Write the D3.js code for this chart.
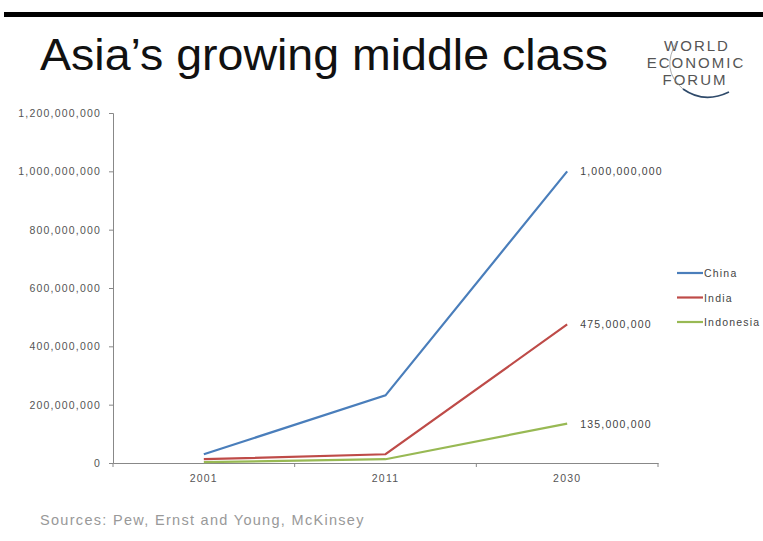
<!DOCTYPE html>
<html>
<head>
<meta charset="utf-8">
<script src="https://cdn.jsdelivr.net/npm/d3@7"></script>
<style>
  body { margin: 0; background: #fff; }
  svg { display: block; font-family: "Liberation Sans", Arial, sans-serif; }
</style>
</head>
<body>
<div class="chart-wrapper"></div>
<script>
var years = ["2001", "2011", "2030"];
var china = [30000000, 232000000, 1000000000];
var india = [13000000, 30000000, 475000000];
var indonesia = [3000000, 13000000, 135000000];
var seriesNames = ["China", "India", "Indonesia"];
var seriesColors = ["#4a7ebb", "#be4b48", "#98b954"];
var yTicks = [0, 200000000, 400000000, 600000000, 800000000, 1000000000, 1200000000];
var endLabels = ["1,000,000,000", "475,000,000", "135,000,000"];

var canvas = d3.select(".chart-wrapper").append("svg").attr("width", 763).attr("height", 541);

// top black rule
canvas.append("rect").attr("x", 4).attr("y", 12).attr("width", 759).attr("height", 5).attr("fill", "#000");

// title
canvas.append("text").attr("x", 40).attr("y", 70)
  .attr("font-size", 44).attr("fill", "#111")
  .attr("textLength", 568).attr("lengthAdjust", "spacingAndGlyphs")
  .text("Asia\u2019s growing middle class");

// logo
var logo = canvas.append("g").attr("fill", "#555").attr("font-size", 15).attr("text-anchor", "middle").attr("letter-spacing", 2);
logo.append("text").attr("x", 697).attr("y", 51).text("WORLD");
logo.append("text").attr("x", 696).attr("y", 68).text("ECONOMIC");
logo.append("text").attr("x", 695).attr("y", 85).text("FORUM");
canvas.append("path").attr("d", "M683,89 Q704,104 729,92").attr("fill", "none").attr("stroke", "#2f4a6a").attr("stroke-width", 1.6);
canvas.append("path").attr("d", "M677,41 Q660,70 683,89").attr("fill", "none").attr("stroke", "#888").attr("stroke-width", 0.7);

var margin = {left: 113, right: 658, top: 113, bottom: 463};
var smallFont = 10.5;
var smallSpacing = 1.2;

var x = d3.scaleBand().domain(years).range([margin.left, margin.right]);
var y = d3.scaleLinear().domain([0, 1200000000]).range([margin.bottom, margin.top]);

var yAxis = canvas.append("g").attr("transform", "translate(" + margin.left + ",0)")
  .call(d3.axisLeft(y).tickValues(yTicks).tickSize(4).tickPadding(8).tickFormat(d3.format(",")));
yAxis.select(".domain").attr("stroke", "#888");
yAxis.selectAll(".tick line").attr("stroke", "#888");
yAxis.selectAll("text").attr("font-size", smallFont).attr("letter-spacing", smallSpacing)
  .attr("fill", "#555").attr("font-family", "Liberation Sans, Arial, sans-serif");

var xAxis = canvas.append("g").attr("transform", "translate(0," + margin.bottom + ")")
  .call(d3.axisBottom(x).tickSize(0).tickPadding(12));
xAxis.select(".domain").attr("stroke", "#888");
xAxis.selectAll("text").attr("font-size", smallFont).attr("letter-spacing", smallSpacing)
  .attr("fill", "#555").attr("font-family", "Liberation Sans, Arial, sans-serif");
// ticks at band boundaries
xAxis.selectAll(".bound").data(years.concat(["end"])).enter().append("line")
  .attr("x1", function(d, i) { return margin.left + i * x.bandwidth(); })
  .attr("x2", function(d, i) { return margin.left + i * x.bandwidth(); })
  .attr("y1", 0).attr("y2", 4).attr("stroke", "#888");

var allSeries = [china, india, indonesia];
var line = d3.line()
  .x(function(d, i) { return x(years[i]) + x.bandwidth() / 2; })
  .y(function(d) { return y(d); });

// draw back to front so China sits on top
for (var index = allSeries.length - 1; index >= 0; index--) {
  canvas.append("path").datum(allSeries[index])
    .attr("d", line).attr("fill", "none")
    .attr("stroke", seriesColors[index]).attr("stroke-width", 2.2);
}

// end labels
for (var index = 0; index < allSeries.length; index++) {
  var last = allSeries[index][allSeries[index].length - 1];
  canvas.append("text")
    .attr("x", x("2030") + x.bandwidth() / 2 + 13)
    .attr("y", y(last) + 4)
    .attr("font-size", smallFont).attr("letter-spacing", smallSpacing).attr("fill", "#444")
    .text(endLabels[index]);
}

// legend
var legend = canvas.append("g");
for (var index = 0; index < seriesNames.length; index++) {
  var ly = 273 + index * 24.5;
  legend.append("line").attr("x1", 677).attr("x2", 703).attr("y1", ly).attr("y2", ly)
    .attr("stroke", seriesColors[index]).attr("stroke-width", 2.2);
  legend.append("text").attr("x", 704).attr("y", ly + 4).attr("font-size", smallFont)
    .attr("letter-spacing", smallSpacing).attr("fill", "#444").text(seriesNames[index]);
}

// source note
canvas.append("text").attr("x", 40).attr("y", 525).attr("font-size", 14.5).attr("letter-spacing", 1.3)
  .attr("fill", "#999")
  .text("Sources: Pew, Ernst and Young, McKinsey");
</script>
</body>
</html>
